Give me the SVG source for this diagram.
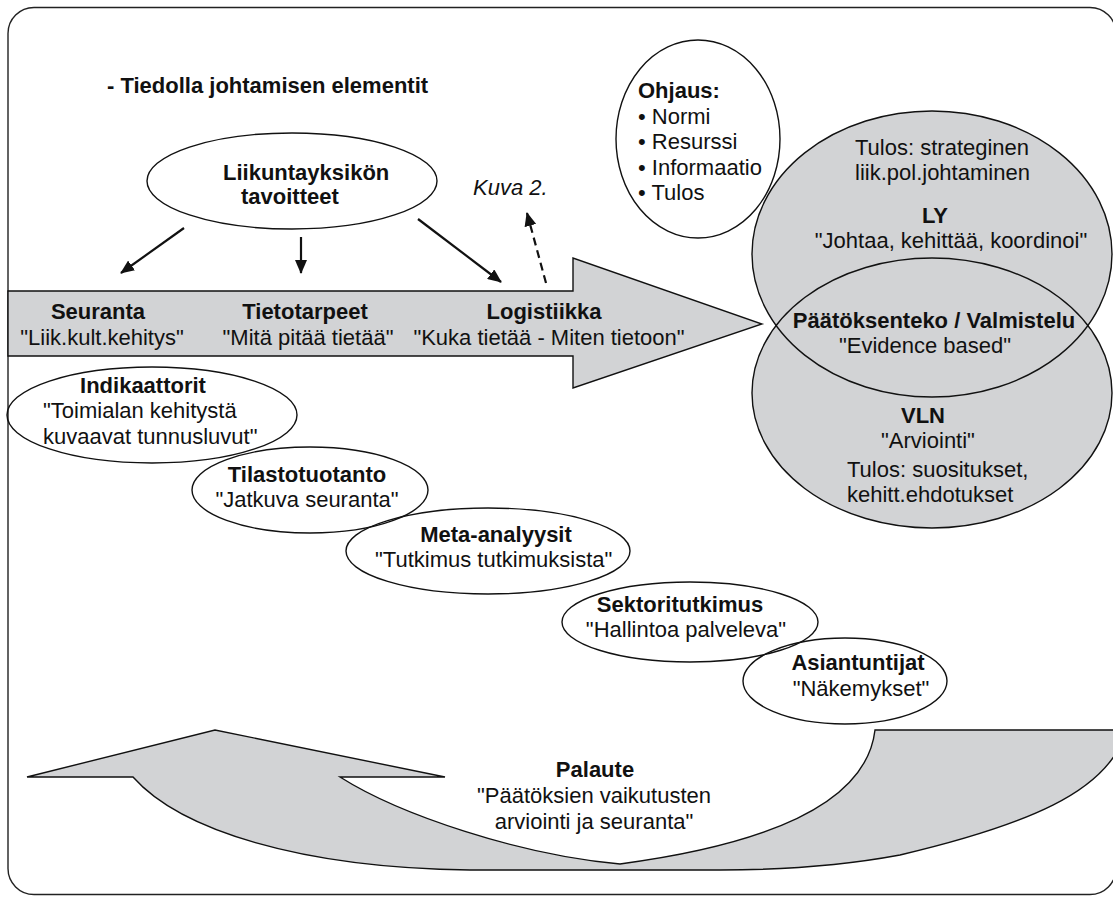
<svg xmlns="http://www.w3.org/2000/svg" width="1113" height="899" viewBox="0 0 1113 899">
<defs>
<style>
text{font-family:"Liberation Sans",Arial,sans-serif;font-size:22px;fill:#111}
.b{font-weight:bold}
.m{text-anchor:middle}
.shape{fill:#d2d3d5;stroke:#111;stroke-width:1.4;stroke-linejoin:miter}
.ell{fill:none;stroke:#111;stroke-width:1.4}
.con{stroke:#111;stroke-width:2.2;fill:none}
</style>
<marker id="ah" markerUnits="userSpaceOnUse" markerWidth="14" markerHeight="12" refX="13" refY="6" orient="auto">
<path d="M0,0 L14,6 L0,12 z" fill="#111"/>
</marker>
</defs>
<rect x="8" y="7.5" width="1108" height="887" rx="26" fill="#fff" stroke="#222" stroke-width="1.4"/>
<g id="feedback-arrow">
<path class="shape" d="M27,777 L215,730 L445,777 L340,777 C400,815 520,855 620,864 C800,840 868,790 875,730 L1118,730 L1118,750 C1095,790 1040,822 900,855 C830,868 770,870 720,870 L470,870 C300,868 180,830 133,777 Z"/>
<text class="b m" x="595" y="777">Palaute</text>
<text class="m" x="594" y="803">"Päätöksien vaikutusten</text>
<text class="m" x="594" y="829">arviointi ja seuranta"</text>
</g>
<g id="main-arrow">
<path class="shape" d="M8,291 L573,291 L573,258 L762,324 L573,388 L573,356 L8,356 Z"/>
<text class="b m" x="98" y="319">Seuranta</text>
<text class="m" x="102" y="345">"Liik.kult.kehitys"</text>
<text class="b m" x="305" y="319">Tietotarpeet</text>
<text class="m" x="308" y="345">"Mitä pitää tietää"</text>
<text class="b m" x="544" y="319">Logistiikka</text>
<text class="m" x="549" y="345">"Kuka tietää - Miten tietoon"</text>
</g>
<g id="title">
<text class="b" x="107" y="93">- Tiedolla johtamisen elementit</text>
</g>
<g id="tavoitteet">
<ellipse class="ell" cx="292" cy="181" rx="145" ry="48"/>
<text class="b" x="223" y="180">Liikuntayksikön</text>
<text class="b" x="241" y="204">tavoitteet</text>
</g>
<g id="kuva">
<text x="473" y="195" font-style="italic">Kuva 2.</text>
</g>
<g id="ohjaus">
<ellipse cx="698" cy="139" rx="82" ry="99" fill="#fff" stroke="#111" stroke-width="1.4"/>
<text class="b" x="638" y="98">Ohjaus:</text>
<text x="638" y="124">• Normi</text>
<text x="638" y="149">• Resurssi</text>
<text x="638" y="175">• Informaatio</text>
<text x="638" y="200">• Tulos</text>
</g>
<g id="ly-vln">
<ellipse cx="932" cy="393" rx="180" ry="135" fill="#d2d3d5"/>
<ellipse cx="932" cy="254" rx="180" ry="143" fill="#d2d3d5"/>
<ellipse class="ell" cx="932" cy="393" rx="180" ry="135"/>
<ellipse class="ell" cx="932" cy="254" rx="180" ry="143"/>
<text x="855" y="155">Tulos: strateginen</text>
<text x="855" y="180">liik.pol.johtaminen</text>
<text class="b m" x="935" y="223">LY</text>
<text class="m" x="951" y="248">"Johtaa, kehittää, koordinoi"</text>
<text class="b m" x="934" y="328">Päätöksenteko / Valmistelu</text>
<text class="m" x="925" y="353">"Evidence based"</text>
<text class="b m" x="923" y="423">VLN</text>
<text class="m" x="928" y="448">"Arviointi"</text>
<text x="847" y="477">Tulos: suositukset,</text>
<text x="847" y="502">kehitt.ehdotukset</text>
</g>
<g id="indikaattorit">
<ellipse class="ell" cx="152" cy="415" rx="145" ry="48"/>
<text class="b m" x="143" y="393">Indikaattorit</text>
<text x="43" y="418">"Toimialan kehitystä</text>
<text x="43" y="444">kuvaavat tunnusluvut"</text>
</g>
<g id="tilastotuotanto">
<ellipse class="ell" cx="310" cy="490" rx="118" ry="43"/>
<text class="b m" x="307" y="482">Tilastotuotanto</text>
<text class="m" x="307" y="507">"Jatkuva seuranta"</text>
</g>
<g id="meta-analyysit">
<ellipse class="ell" cx="488" cy="551" rx="142" ry="43"/>
<text class="b m" x="496" y="542">Meta-analyysit</text>
<text x="375" y="567">"Tutkimus tutkimuksista"</text>
</g>
<g id="sektoritutkimus">
<ellipse class="ell" cx="690" cy="622" rx="128" ry="40"/>
<text class="b m" x="680" y="612">Sektoritutkimus</text>
<text class="m" x="686" y="637">"Hallintoa palveleva"</text>
</g>
<g id="asiantuntijat">
<ellipse class="ell" cx="845" cy="681" rx="102" ry="43"/>
<text class="b m" x="858" y="670">Asiantuntijat</text>
<text class="m" x="861" y="696">"Näkemykset"</text>
</g>
<g id="connectors">
<line class="con" x1="184" y1="228" x2="121" y2="273" marker-end="url(#ah)"/>
<line class="con" x1="301" y1="237" x2="301" y2="273" marker-end="url(#ah)"/>
<line class="con" x1="418" y1="219" x2="501" y2="282" marker-end="url(#ah)"/>
<line class="con" x1="546" y1="283" x2="527" y2="213" stroke-dasharray="8,5" marker-end="url(#ah)"/>
</g>
</svg>
